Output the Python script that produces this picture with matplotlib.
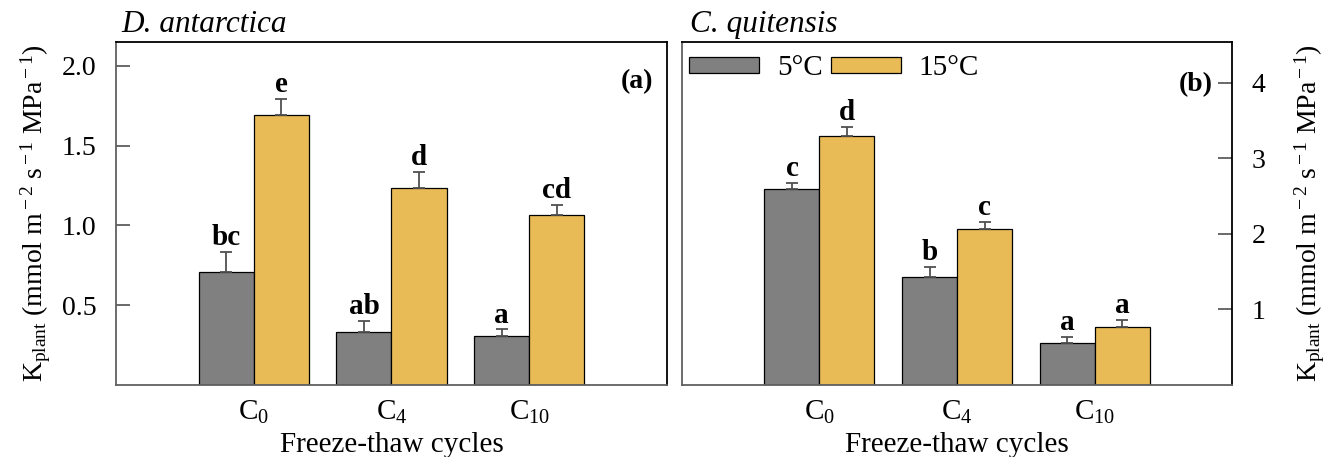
import matplotlib
matplotlib.use("Agg")
import matplotlib.pyplot as plt
import numpy as np

plt.rcParams["font.family"] = "Liberation Serif"
plt.rcParams["mathtext.fontset"] = "custom"
plt.rcParams["mathtext.rm"] = "Liberation Serif"
plt.rcParams["mathtext.it"] = "Liberation Serif:italic"
plt.rcParams["mathtext.bf"] = "Liberation Serif:bold"

cycles = [r"C$_{\rm 0}$", r"C$_{\rm 4}$", r"C$_{\rm 10}$"]
temps = ["5°C", "15°C"]

# D. antarctica
da_5 = [0.71, 0.333, 0.31]
da_5_err = [0.125, 0.067, 0.038]
da_15 = [1.69, 1.235, 1.067]
da_15_err = [0.10, 0.10, 0.06]
da_5_let = ["bc", "ab", "a"]
da_15_let = ["e", "d", "cd"]

# C. quitensis
cq_5 = [2.60, 1.43, 0.56]
cq_5_err = [0.08, 0.13, 0.07]
cq_15 = [3.29, 2.06, 0.77]
cq_15_err = [0.13, 0.10, 0.09]
cq_5_let = ["c", "b", "a"]
cq_15_let = ["d", "c", "a"]

gray = "#808080"
gold = "#E9BB57"
fs = 20
ylab = r"K$_{\rm plant}$ (mmol m$^{\rm -2}$ s$^{\rm -1}$ MPa$^{\rm -1}$)"

W, H = 1332, 457
fig = plt.figure(figsize=(W / 100, H / 100), dpi=100)
ax1 = fig.add_axes([116 / W, (H - 385) / H, 551 / W, 343 / H])
ax2 = fig.add_axes([682 / W, (H - 385) / H, 550 / W, 343 / H])


def draw(ax, v5, e5, v15, e15, l5, l15):
    x = np.arange(1, len(v5) + 1)
    w = 0.4
    ekw = dict(ecolor="#505050", elinewidth=1.3, capsize=4.5, capthick=1.3)
    zeros = [0] * len(v5)
    b1 = ax.bar(x - w / 2, v5, w, color=gray, edgecolor="black", linewidth=0.9,
                yerr=[zeros, e5], error_kw=ekw, label=temps[0])
    b2 = ax.bar(x + w / 2, v15, w, color=gold, edgecolor="black", linewidth=0.9,
                yerr=[zeros, e15], error_kw=ekw, label=temps[1])
    for xi, v, e, t in zip(x - w / 2, v5, e5, l5):
        ax.annotate(t, (xi, v + e), xytext=(0, 5), textcoords="offset points",
                    ha="center", va="baseline", fontsize=fs + 1, fontweight="bold")
    for xi, v, e, t in zip(x + w / 2, v15, e15, l15):
        ax.annotate(t, (xi, v + e), xytext=(0, 5), textcoords="offset points",
                    ha="center", va="baseline", fontsize=fs + 1, fontweight="bold")
    ax.set_xlim(0, 4)
    ax.set_xticks(x)
    ax.set_xticklabels(cycles, fontsize=fs + 1)
    ax.tick_params(axis="x", length=0, pad=10)
    ax.set_xlabel("Freeze-thaw cycles", fontsize=fs + 1, labelpad=4)
    for s in ["left", "bottom"]:
        ax.spines[s].set_color("#606060")
    for s in ["top", "right"]:
        ax.spines[s].set_color("black")
    for s in ax.spines.values():
        s.set_linewidth(1.3)
    return b1, b2


draw(ax1, da_5, da_5_err, da_15, da_15_err, da_5_let, da_15_let)
ax1.set_ylim(0, 2.15)
ax1.set_yticks([0.5, 1.0, 1.5, 2.0])
ax1.set_yticklabels(["0.5", "1.0", "1.5", "2.0"])
ax1.tick_params(axis="y", direction="in", length=10, width=1.2, color="#505050",
                labelsize=fs, pad=14)
ax1.set_ylabel(ylab, fontsize=fs, labelpad=6)
ax1.text(0.945, 0.885, "(a)", transform=ax1.transAxes, fontsize=fs,
         fontweight="bold", ha="center", va="center")
ax1.text(0.01, 1.03, "D. antarctica", transform=ax1.transAxes, fontsize=22.5,
         style="italic", ha="left", va="baseline")

b1, b2 = draw(ax2, cq_5, cq_5_err, cq_15, cq_15_err, cq_5_let, cq_15_let)
ax2.set_ylim(0, 4.54)
ax2.set_yticks([1, 2, 3, 4])
ax2.yaxis.tick_right()
ax2.yaxis.set_label_position("right")
ax2.tick_params(axis="y", direction="in", length=10, width=1.2, color="#505050",
                labelsize=fs, pad=14, left=False, right=True)
ax2.set_ylabel(ylab, fontsize=fs, rotation=90, labelpad=20)
ax2.text(0.935, 0.875, "(b)", transform=ax2.transAxes, fontsize=fs,
         fontweight="bold", ha="center", va="center")
ax2.text(0.015, 1.03, "C. quitensis", transform=ax2.transAxes, fontsize=22.5,
         style="italic", ha="left", va="baseline")
ax2.legend(handles=[b1, b2], labels=temps, loc="upper left", ncol=2,
           frameon=False, fontsize=fs + 1, handlelength=2.4, handleheight=0.45,
           handletextpad=0.6, columnspacing=0.3, borderaxespad=0.0,
           bbox_to_anchor=(-0.008, 0.995))

fig.savefig("out.png", dpi=100)
